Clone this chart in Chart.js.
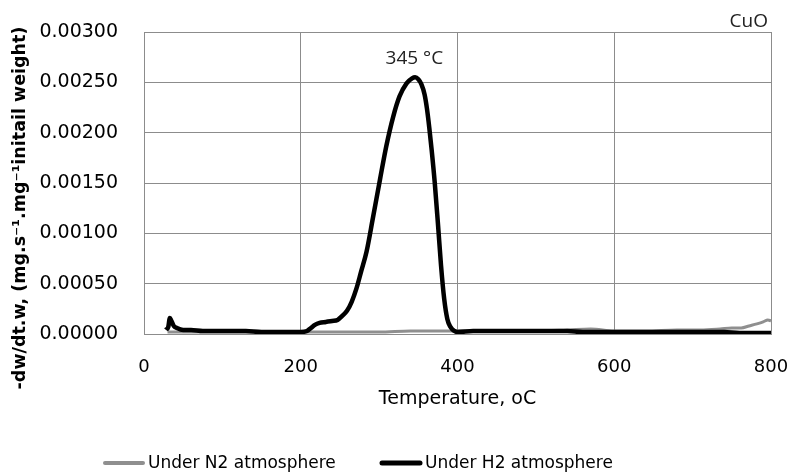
<!DOCTYPE html>
<html>
<head>
<meta charset="utf-8">
<script src="https://cdn.jsdelivr.net/npm/chart.js@4.4.0/dist/chart.umd.min.js"></script>
<style>
    html, body { margin: 0; padding: 0; background: #fff; }
</style>
</head>
<body>
<canvas id="canvas_chart" width="787" height="475"></canvas>
<script>
// series names / colours (legend order)
const seriesNames = ['Under N2 atmosphere', 'Under H2 atmosphere'];
const seriesColors = ['#8f8f8f', '#000000'];

// under N2 atmosphere
const tempN2 = [30, 60, 100, 150, 200, 220, 260, 300, 340, 380, 420, 460, 500, 540, 570, 600, 640, 680, 710, 735, 750, 762, 772, 782, 790, 796, 800];
const rateN2 = [0.00002, 0.00002, 0.00002, 0.00002, 0.00002, 0.00002, 0.00002, 0.00002, 0.00003, 0.00003, 0.00003, 0.00003, 0.00003, 0.00004, 0.00005, 0.00003, 0.00003, 0.00004, 0.00004, 0.00005, 0.00006, 0.00006, 0.00008, 0.00010, 0.00012, 0.00014, 0.00013];

// under H2 atmosphere
const tempH2 = [28, 31, 33, 35, 38, 42, 50, 60, 75, 90, 110, 130, 150, 170, 190, 200, 208, 213, 218, 224, 232, 240, 247, 253, 259, 265, 271, 277, 284, 292, 301, 309, 318, 326, 335, 342, 346, 350, 354, 358, 361, 364, 367, 371, 375, 379, 383, 387, 391, 396, 400, 420, 440, 460, 480, 500, 520, 540, 560, 580, 600, 620, 640, 660, 680, 700, 720, 740, 760, 780, 800];
const rateH2 = [0.00004, 0.00007, 0.00016, 0.00013, 0.00008, 0.00006, 0.00004, 0.00004, 0.00003, 0.00003, 0.00003, 0.00003, 0.00002, 0.00002, 0.00002, 0.00002, 0.00003, 0.00006, 0.00009, 0.00011, 0.00012, 0.00013, 0.00014, 0.00018, 0.00023, 0.00032, 0.00045, 0.00062, 0.00082, 0.00115, 0.00153, 0.00186, 0.00216, 0.00236, 0.00249, 0.00254, 0.00255, 0.00253, 0.00248, 0.00238, 0.00224, 0.00205, 0.00183, 0.00150, 0.00110, 0.00068, 0.00035, 0.00015, 0.00007, 0.00003, 0.00002, 0.00003, 0.00003, 0.00003, 0.00003, 0.00003, 0.00003, 0.00003, 0.00002, 0.00002, 0.00002, 0.00002, 0.00002, 0.00002, 0.00002, 0.00002, 0.00002, 0.00002, 0.00001, 0.00001, 0.00001];

const xTicks = [0, 200, 400, 600, 800];
const yTicks = [0, 0.0005, 0.001, 0.0015, 0.002, 0.0025, 0.003];

const xTitle = 'Temperature, oC';
const yTitle = '-dw/dt.w, (mg.s\u207B\u00B9.mg\u207B\u00B9initail weight)';
const peakTemp = 345;
const peakLabel = '345 \u00B0C';
const sampleLabel = 'CuO';

const gridColor = '#8c8c8c';
const fontName = '"DejaVu Sans", Verdana, sans-serif';

function toPoints(xs, ys) {
    return xs.map((x, i) => ({ x: x, y: ys[i] }));
}

// y title, peak label, sample name and legend
const extrasPlugin = {
    id: 'extras',
    afterDraw(chart) {
        const ctx = chart.ctx;
        const area = chart.chartArea;
        const xs = chart.scales.x;
        const ys = chart.scales.y;

        ctx.save();
        ctx.fillStyle = '#000';
        ctx.font = 'bold 17.5px ' + fontName;
        ctx.textAlign = 'center';
        ctx.textBaseline = 'middle';
        ctx.translate(20, 208);
        ctx.rotate(-Math.PI / 2);
        ctx.fillText(yTitle, 0, 0);
        ctx.restore();

        ctx.save();
        ctx.fillStyle = '#222';
        ctx.font = '19px "Open Sans", sans-serif';
        ctx.textAlign = 'center';
        ctx.textBaseline = 'middle';
        ctx.fillText(peakLabel, xs.getPixelForValue(peakTemp), ys.getPixelForValue(Math.max(...rateH2)) - 19);
        ctx.textAlign = 'right';
        ctx.fillText(sampleLabel, area.right - 3, area.top - 10);
        ctx.restore();

        // legend
        const legendY = 463;
        const legendX = [103, 380];
        const widths = [4, 5];
        ctx.save();
        ctx.font = '17px ' + fontName;
        ctx.textAlign = 'left';
        ctx.textBaseline = 'middle';
        seriesNames.forEach((name, i) => {
            ctx.strokeStyle = seriesColors[i];
            ctx.lineWidth = widths[i];
            ctx.lineCap = 'round';
            ctx.beginPath();
            ctx.moveTo(legendX[i] + 2, legendY);
            ctx.lineTo(legendX[i] + 40, legendY);
            ctx.stroke();
            ctx.fillStyle = '#000';
            ctx.fillText(name, legendX[i] + 45, legendY + 1);
        });
        ctx.restore();
    }
};

const ctx = document.getElementById('canvas_chart').getContext('2d');
new Chart(ctx, {
    type: 'line',
    data: {
        datasets: [{
            label: seriesNames[1],
            data: toPoints(tempH2, rateH2),
            borderColor: seriesColors[1],
            borderWidth: 4.5,
            pointRadius: 0,
            cubicInterpolationMode: 'monotone'
        }, {
            label: seriesNames[0],
            data: toPoints(tempN2, rateN2),
            borderColor: seriesColors[0],
            borderWidth: 3,
            pointRadius: 0,
            cubicInterpolationMode: 'monotone'
        }]
    },
    options: {
        responsive: false,
        animation: false,
        layout: { padding: { top: 32, right: 16, bottom: 65, left: 0 } },
        plugins: {
            legend: { display: false },
            tooltip: { enabled: false }
        },
        scales: {
            x: {
                type: 'linear',
                min: 0,
                max: 800,
                afterBuildTicks: s => { s.ticks = xTicks.map(v => ({ value: v })); },
                afterFit: s => {
                    s.height = 76;
                    s.paddingLeft = 0;
                    s.paddingRight = 0;
                },
                grid: { color: gridColor, drawTicks: false },
                border: { color: gridColor },
                ticks: {
                    color: '#000',
                    padding: 23,
                    maxRotation: 0,
                    font: { family: fontName, size: 18 }
                },
                title: {
                    display: true,
                    text: xTitle,
                    color: '#000',
                    padding: 0,
                    font: { family: fontName, size: 19 }
                }
            },
            y: {
                min: 0,
                max: 0.003,
                afterBuildTicks: s => { s.ticks = yTicks.map(v => ({ value: v })); },
                afterFit: s => {
                    s.width = 144;
                    s.paddingTop = 0;
                    s.paddingBottom = 0;
                },
                grid: { color: gridColor, drawTicks: false },
                border: { color: gridColor },
                ticks: {
                    color: '#000',
                    padding: 26,
                    callback: v => v.toFixed(5),
                    font: { family: fontName, size: 19 }
                }
            }
        }
    },
    plugins: [extrasPlugin]
});
</script>
</body>
</html>
